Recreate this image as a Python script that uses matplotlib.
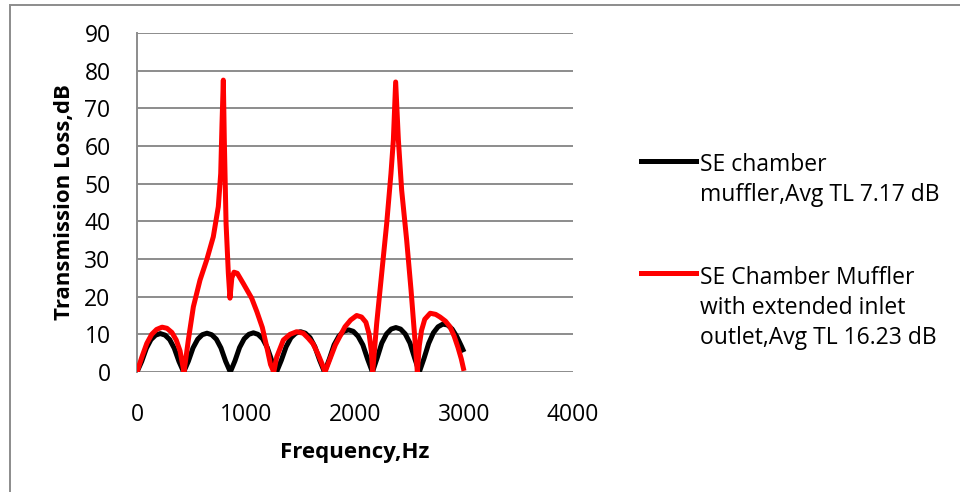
import matplotlib
matplotlib.use("Agg")
import matplotlib.pyplot as plt
from matplotlib.lines import Line2D
from matplotlib.patches import Rectangle

# ------------------- #
# Data

freq_black = [
    0, 43, 86, 128, 171, 214, 257, 300, 342, 385,
    428, 471, 514, 557, 599, 642, 685, 728, 770, 813,
    856, 898, 941, 983, 1026, 1068, 1110, 1153, 1195, 1238,
    1280, 1324, 1368, 1412, 1456, 1500, 1544, 1588, 1632, 1676,
    1720, 1764, 1808, 1852, 1896, 1940, 1984, 2028, 2072, 2116,
    2160, 2203, 2246, 2289, 2332, 2375, 2418, 2461, 2504, 2547,
    2590, 2633, 2676, 2719, 2762, 2805, 2848, 2891, 2934, 2977, 3000,
]
tl_black = [
    0, 2.8, 6.3, 8.6, 9.8, 10.2, 9.8, 8.6, 6.3, 2.8,
    0, 2.85, 6.4, 8.7, 9.9, 10.3, 9.9, 8.7, 6.4, 2.85,
    0, 2.9, 6.5, 8.8, 10.0, 10.4, 10.0, 8.8, 6.5, 2.9,
    0, 3.1, 6.7, 9.1, 10.3, 10.7, 10.3, 9.1, 6.7, 3.1,
    0, 3.4, 7.2, 9.5, 10.8, 11.2, 10.8, 9.5, 7.2, 3.4,
    0, 3.7, 7.7, 10.1, 11.4, 11.8, 11.4, 10.1, 7.7, 3.7,
    0, 3.6, 7.6, 10.4, 12.0, 12.7, 12.5, 11.4, 9.4, 6.8, 5.3,
]

freq_red = [
    0, 45, 90, 135, 180, 230, 275, 320, 360, 395, 431,
    450, 471, 517, 578, 639, 700, 746, 768, 780, 792, 801, 817, 838, 853,
    870, 890, 920, 975, 1052, 1100, 1150, 1190, 1225, 1255,
    1282, 1343, 1404, 1465, 1525, 1570, 1615, 1660, 1700, 1725,
    1771, 1820, 1862, 1908, 1960, 2015, 2060, 2100, 2130, 2150, 2162,
    2199, 2245, 2291, 2330, 2352, 2373, 2398, 2428, 2474, 2514, 2550, 2572,
    2590, 2610, 2640, 2690, 2740, 2780, 2830, 2872, 2910, 2945, 2975, 3000,
]
tl_red = [
    0, 4.0, 7.6, 10.0, 11.3, 11.9, 11.6, 10.5, 8.5, 5.6, 0,
    4.0, 8.5, 17.3, 24.4, 29.7, 35.9, 43.9, 52.7, 66.0, 77.5, 61.6, 39.5, 26.2, 19.6,
    25.0, 26.5, 26.2, 23.5, 19.6, 16.0, 11.8, 6.7, 2.0, 0,
    4.0, 8.5, 10.0, 10.7, 10.3, 9.0, 7.5, 4.8, 2.0, 0,
    3.5, 7.2, 9.5, 12.0, 13.8, 15.0, 14.6, 13.2, 10.0, 5.5, 0,
    12.9, 26.2, 39.5, 52.7, 61.6, 77.0, 61.6, 48.3, 35.0, 21.8, 8.5, 0,
    7.0, 11.0, 14.0, 15.6, 15.3, 14.6, 13.5, 12.0, 9.5, 6.5, 3.5, 0.3,
]

x_ticks = [0, 1000, 2000, 3000, 4000]
y_ticks = [0, 10, 20, 30, 40, 50, 60, 70, 80, 90]

label_black = "SE chamber\nmuffler,Avg TL 7.17 dB"
label_red = "SE Chamber Muffler\nwith extended inlet\noutlet,Avg TL 16.23 dB"

# ------------------- #
# Plot

plt.rcParams["font.family"] = ["Open Sans", "DejaVu Sans"]
grid_color = "#8c8c8c"
text_size = 16.5

fig = plt.figure(figsize=(9.6, 4.92), dpi=100)
ax = fig.add_axes([137 / 960, 120 / 492, 436 / 960, 339 / 492])

ax.plot(freq_black, tl_black, color="black", lw=3.6, solid_joinstyle="round",
        solid_capstyle="butt", zorder=3)
ax.plot(freq_red, tl_red, color="#ff0000", lw=3.6, solid_joinstyle="round",
        solid_capstyle="butt", zorder=4)

ax.set_xlim(0, 4000)
ax.set_ylim(0, 90)
ax.set_xticks(x_ticks)
ax.set_yticks(y_ticks)
ax.tick_params(length=0, labelsize=text_size, colors="black")
ax.tick_params(axis="y", pad=19)
ax.tick_params(axis="x", pad=22)
ax.grid(axis="y", color=grid_color, lw=1.4)
ax.set_axisbelow(True)
for side in ["top", "right", "bottom"]:
    ax.spines[side].set_visible(False)
ax.spines["left"].set_color(grid_color)
ax.spines["left"].set_linewidth(1.4)

ax.set_xlabel("Frequency,Hz", fontsize=16, fontweight="bold", labelpad=11)
ax.set_ylabel("Transmission Loss,dB", fontsize=16, fontweight="bold", labelpad=7)

# legend drawn by hand so the key line sits on the first text line;
# text is anchored on the baseline of its last line
for y_px, last_base_px, color, text in [(161, 201, "black", label_black),
                                        (273, 344, "#ff0000", label_red)]:
    yf = 1 - y_px / 492
    fig.add_artist(Line2D([641 / 960, 696 / 960], [yf, yf], color=color, lw=3.6,
                          transform=fig.transFigure))
    fig.text(700 / 960, 1 - last_base_px / 492, text, fontsize=text_size,
             va="baseline", ha="left", linespacing=1.33)

# outer chart border
fig.add_artist(Rectangle((9.5 / 960, -0.1), 1.2, 1.1 - 4.5 / 492, fill=False,
                         edgecolor=grid_color, lw=1.4, transform=fig.transFigure))

fig.savefig("out.png", dpi=100)
